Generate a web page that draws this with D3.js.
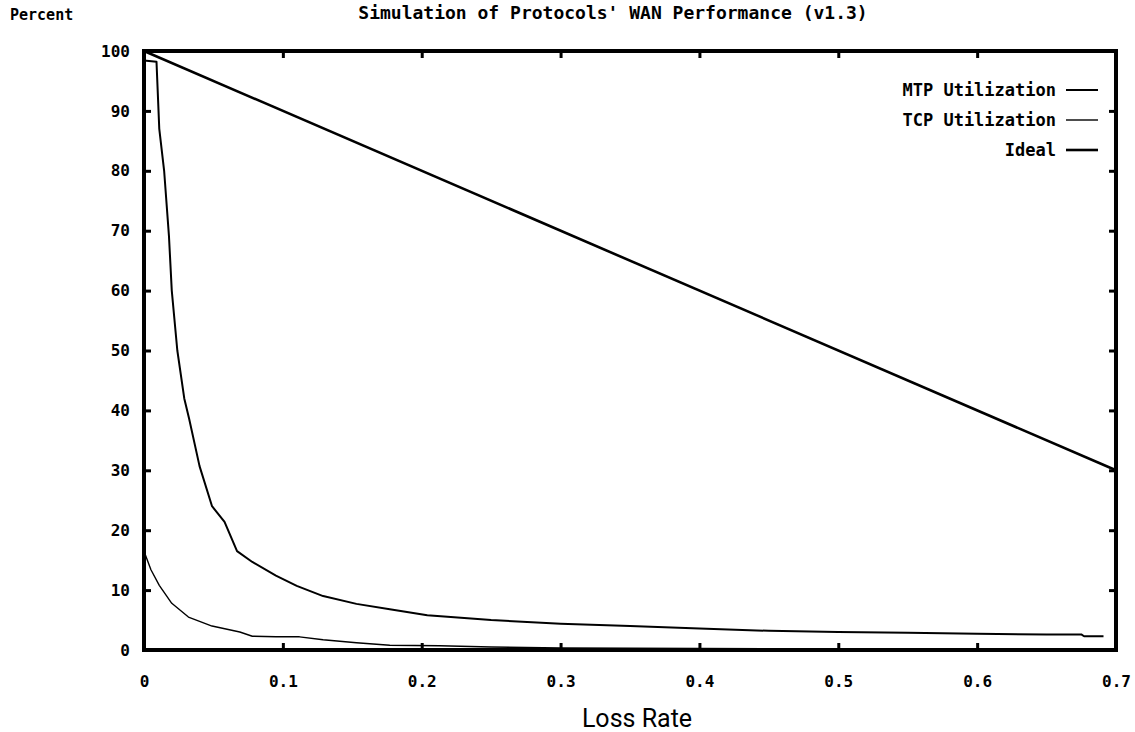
<!DOCTYPE html>
<html>
<head>
<meta charset="utf-8">
<script src="https://cdn.jsdelivr.net/npm/d3@7"></script>
<style>
  body { margin: 0; background: #fff; }
  svg { display: block; }
  .lbl { font-family: "DejaVu Sans Mono", "Liberation Mono", monospace; font-weight: bold; fill: #000; }
  .tick text { font-family: "DejaVu Sans Mono", "Liberation Mono", monospace; font-weight: bold; font-size: 16px; fill: #000; }
  .tick line { stroke: #000; stroke-width: 3; }
</style>
</head>
<body>
<div id="chart"></div>
<script>
// values
const lossRate = [0, 0.7];
const xTicks = [0, 0.1, 0.2, 0.3, 0.4, 0.5, 0.6, 0.7];
const yTicks = [0, 10, 20, 30, 40, 50, 60, 70, 80, 90, 100];

const mtpX = [0, 0.009, 0.011, 0.0145, 0.018, 0.020, 0.024, 0.029, 0.0325, 0.040, 0.049, 0.058, 0.067, 0.078, 0.095,
  0.11, 0.129, 0.153, 0.177, 0.204, 0.25, 0.3, 0.35, 0.4, 0.45, 0.5, 0.55, 0.6, 0.65, 0.675, 0.677, 0.691];
const mtpY = [98.4, 98.2, 87, 80, 69, 60, 50, 42, 38.6, 30.7, 24, 21.4, 16.5, 14.7, 12.4,
  10.7, 9, 7.7, 6.8, 5.8, 5.0, 4.4, 4.0, 3.6, 3.2, 3.0, 2.9, 2.7, 2.6, 2.6, 2.3, 2.3];

const tcpX = [0, 0.005, 0.011, 0.020, 0.032, 0.049, 0.069, 0.078, 0.095, 0.112, 0.129, 0.153, 0.177, 0.213,
  0.25, 0.3, 0.4, 0.5, 0.6, 0.691];
const tcpY = [16.5, 13.4, 10.8, 7.8, 5.5, 4, 3, 2.3, 2.2, 2.2, 1.7, 1.2, 0.8, 0.7,
  0.5, 0.35, 0.25, 0.2, 0.15, 0.1];

const idealY = [100, 30];

const series = [
  { name: "MTP Utilization", x: mtpX, y: mtpY, width: 2 },
  { name: "TCP Utilization", x: tcpX, y: tcpY, width: 1.4 },
  { name: "Ideal", x: lossRate, y: idealY, width: 2.6 },
];

const W = 1135, H = 732;
const m = { left: 144, right: 1116, top: 51, bottom: 650 };

const svg = d3.select("#chart").append("svg").attr("width", W).attr("height", H);

const x = d3.scaleLinear().domain([0, 0.7]).range([m.left, m.right]);
const y = d3.scaleLinear().domain([0, 100]).range([m.bottom, m.top]);

// axes, ticks pointing inward
svg.append("g").attr("transform", `translate(0,${m.bottom})`)
  .call(d3.axisBottom(x).tickValues(xTicks).tickSizeInner(-7).tickSizeOuter(0).tickPadding(26)
    .tickFormat((d) => d === 0 ? "0" : d3.format(".1f")(d)))
  .call((g) => g.select(".domain").remove());
svg.append("g").attr("transform", `translate(0,${m.top})`)
  .call(d3.axisTop(x).tickValues(xTicks).tickSizeInner(-7).tickSizeOuter(0).tickFormat(""))
  .call((g) => g.select(".domain").remove());
svg.append("g").attr("transform", `translate(${m.left},0)`)
  .call(d3.axisLeft(y).tickValues(yTicks).tickSizeInner(-7).tickSizeOuter(0).tickPadding(14))
  .call((g) => g.select(".domain").remove());
svg.append("g").attr("transform", `translate(${m.right},0)`)
  .call(d3.axisRight(y).tickValues(yTicks).tickSizeInner(-7).tickSizeOuter(0).tickFormat(""))
  .call((g) => g.select(".domain").remove());

// curves
const line = d3.line().x((d) => x(d[0])).y((d) => y(d[1]));
svg.append("g").selectAll("path").data(series).join("path")
  .attr("d", (s) => line(s.x.map((v, i) => [v, s.y[i]])))
  .attr("fill", "none")
  .attr("stroke", "#000")
  .attr("stroke-width", (s) => s.width)
  .attr("stroke-linejoin", "round");

// frame
svg.append("rect")
  .attr("x", m.left).attr("y", m.top)
  .attr("width", m.right - m.left).attr("height", m.bottom - m.top)
  .attr("fill", "none").attr("stroke", "#000").attr("stroke-width", 4);

// legend
const leg = svg.append("g").selectAll("g").data(series).join("g")
  .attr("transform", (s, i) => `translate(0,${90 + i * 30})`);
leg.append("text").attr("class", "lbl")
  .attr("x", 1056).attr("dy", "0.35em").attr("text-anchor", "end")
  .style("font-size", "17px")
  .text((s) => s.name);
leg.append("line")
  .attr("x1", 1066).attr("x2", 1098)
  .attr("stroke", "#000").attr("stroke-width", (s) => s.width);

// titles
svg.append("text").attr("class", "lbl")
  .attr("x", 10).attr("y", 20).style("font-size", "15px").text("Percent");
svg.append("text").attr("class", "lbl")
  .attr("x", 613).attr("y", 19).attr("text-anchor", "middle").style("font-size", "18px")
  .text("Simulation of Protocols' WAN Performance (v1.3)");
svg.append("text")
  .attr("x", 637).attr("y", 727).attr("text-anchor", "middle")
  .style("font-family", "Roboto, 'Liberation Sans', sans-serif").style("font-size", "25px").style("fill", "#000")
  .text("Loss Rate");
</script>
</body>
</html>
